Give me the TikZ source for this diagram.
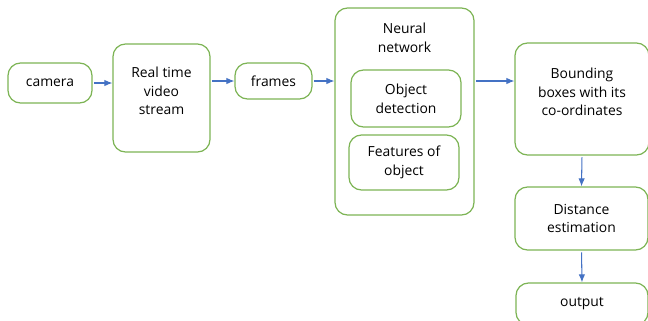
\documentclass[tikz,border=0pt]{standalone}
\usepackage{fontspec}
\setmainfont{Open Sans}
\usepackage{xcolor}
\usepackage{tikz}
\usetikzlibrary{arrows.meta}

\definecolor{boxgreen}{RGB}{125,180,85}
\definecolor{arrblue}{RGB}{68,114,196}

\begin{document}
\begin{tikzpicture}[font=\fontsize{7.9}{10.7}\selectfont,
  box/.style={draw=boxgreen, line width=0.7pt, rounded corners=0.25cm, align=center},
  toptext/.style={align=center, anchor=north, inner sep=0pt},
  arr/.style={draw=arrblue, line width=0.6pt, -{Latex[length=1.6mm,width=1.3mm]}, shorten <=1pt}]

\useasboundingbox (0,0) rectangle (12.96,-6.4);
\clip (0,0) rectangle (12.96,-6.4);

% input side
\node[box, minimum width=1.68cm, minimum height=0.8cm] (camera) at (1.0,-1.66) {camera};
\node[box, minimum width=1.94cm, minimum height=2.16cm,
  label={[toptext, yshift=-0.46cm]north:Real time\\video\\stream}] (stream) at (3.23,-1.96) {};
\node[box, minimum width=1.54cm, minimum height=0.72cm] (frames) at (5.47,-1.62) {frames};

% neural network with its two parts
\node[box, minimum width=2.78cm, minimum height=4.14cm,
  label={[toptext, yshift=-0.30cm]north:Neural\\network}] (nn) at (8.09,-2.23) {};
\node[box, minimum width=2.2cm, minimum height=1.14cm] (objdet) at (8.12,-1.97) {Object\\detection};
\node[box, minimum width=2.2cm, minimum height=1.1cm] (feat) at (8.08,-3.25) {Features of\\object};

% output side
\node[box, minimum width=2.68cm, minimum height=2.24cm,
  label={[toptext, yshift=-0.50cm]north:Bounding\\boxes with its\\co-ordinates}] (bbox) at (11.64,-1.98) {};
\node[box, minimum width=2.66cm, minimum height=1.26cm] (dist) at (11.63,-4.37) {Distance\\estimation};
\node[box, minimum width=2.64cm, minimum height=0.84cm] (out) at (11.64,-6.08) {output};

\draw[arr] (camera.east) -- (camera.east -| stream.west);
\draw[arr] (stream.east |- frames.east) -- (frames.west);
\draw[arr] (frames.east) -- (frames.east -| nn.west);
\draw[arr] (nn.east |- frames.east) -- (bbox.west |- frames.east);
\draw[arr] (bbox.south) -- (dist.north);
\draw[arr] (dist.south) -- (out.north);

\end{tikzpicture}
\end{document}
